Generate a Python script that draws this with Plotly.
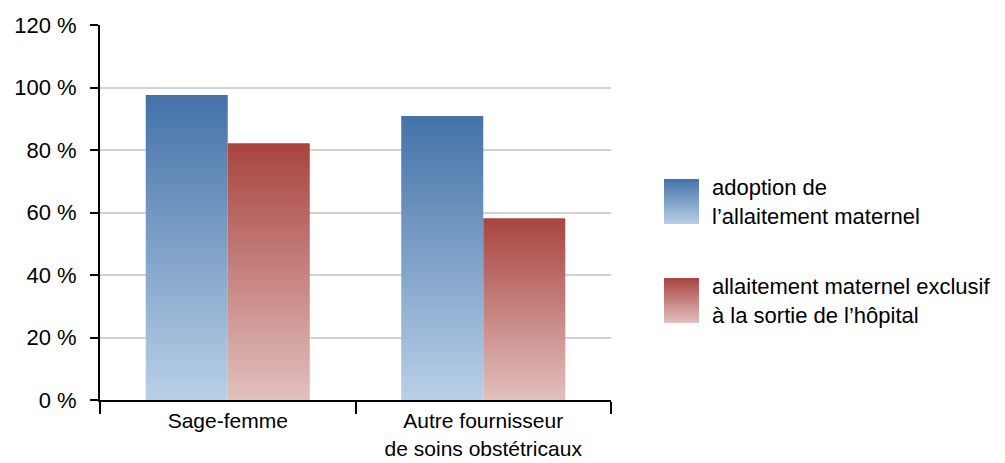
import plotly.graph_objects as go

categories = ["Sage-femme", "Autre fournisseur<br>de soins obstétricaux"]
series_names = ["adoption de<br>l’allaitement maternel",
                "allaitement maternel exclusif<br>à la sortie de l’hôpital"]
adoption = [97.6, 90.9]
exclusif = [82.2, 58.2]
y_ticks = [0, 20, 40, 60, 80, 100, 120]
y_ticktext = [f"{v} %" for v in y_ticks]

blue_scale = [[0, "#b9d0e7"], [1, "#4472a8"]]
red_scale = [[0, "#e1c0be"], [1, "#a9443f"]]
FONT = dict(family="Liberation Sans, Arial, sans-serif", size=22, color="#000000")
XFONT = dict(FONT, size=21)

# page body has an 8px margin: work in page pixels, shifted
OFF = 8
W, H = 1005 - OFF, 463 - OFF
ML, MR, MT = 100 - OFF, 5, 25 - OFF
PLOT_BOTTOM = 400 - OFF
MB = H - PLOT_BOTTOM
PW = W - ML - MR
PH = H - MT - MB


def px_x(p):
    return (p - OFF - ML) / PW


def px_y(p):
    return (PLOT_BOTTOM - (p - OFF)) / PH


main_right = px_x(611)

fig = go.Figure()

bar_w = 0.321
series = [(adoption, blue_scale, -1), (exclusif, red_scale, 0)]
for vals, scale, side in series:
    for i, v in enumerate(vals):
        x0 = i + side * bar_w
        x1 = x0 + bar_w
        fig.add_trace(go.Scatter(
            x=[x0, x0, x1, x1, x0], y=[0, v, v, 0, 0],
            mode="lines", line=dict(width=0), fill="toself",
            fillgradient=dict(type="vertical", colorscale=scale),
            showlegend=False, hoverinfo="skip",
            xaxis="x", yaxis="y"))

# custom legend swatches
swatches = [(179, 224, blue_scale, "y2"), (278, 323, red_scale, "y3")]
for (top, bot, scale, ya), name in zip(swatches, series_names):
    fig.add_trace(go.Scatter(
        x=[0, 0, 1, 1, 0], y=[0, 1, 1, 0, 0], mode="lines",
        line=dict(width=0), fill="toself",
        fillgradient=dict(type="vertical", colorscale=scale),
        showlegend=False, hoverinfo="skip", xaxis="x2", yaxis=ya))
    fig.add_annotation(
        text=name, xref="paper", yref="paper",
        x=px_x(710), y=px_y((top + bot) / 2), xanchor="left", yanchor="middle",
        align="left", showarrow=False, font=FONT)

hidden = dict(visible=False, range=[0, 1], fixedrange=True)
fig.update_layout(
    width=W, height=H,
    margin=dict(l=ML, r=MR, t=MT, b=MB, autoexpand=False),
    paper_bgcolor="white", plot_bgcolor="white",
    font=FONT,
    showlegend=False,
    xaxis=dict(
        domain=[0, main_right], range=[-0.5, 1.5],
        tickvals=list(range(len(categories))), ticktext=categories,
        ticks="", showgrid=False, zeroline=False,
        showline=True, linecolor="black", linewidth=2,
        ticklabelstandoff=1, automargin=False,
        minor=dict(tickvals=[-0.5, 0.5, 1.5], ticks="outside", ticklen=12,
                   tickwidth=2, tickcolor="black", showgrid=False),
        tickfont=XFONT, fixedrange=True),
    yaxis=dict(
        range=[0, 120], tickvals=y_ticks, ticktext=y_ticktext,
        ticks="outside", ticklen=8, tickwidth=2, tickcolor="black",
        showline=True, linecolor="black", linewidth=2,
        showgrid=True, gridcolor="#d2d2d2", gridwidth=2, automargin=False,
        zeroline=False, ticklabelstandoff=9, tickfont=FONT, fixedrange=True),
    xaxis2=dict(domain=[px_x(664), px_x(699)], anchor="y2", **hidden),
    yaxis2=dict(domain=[px_y(224), px_y(179)], anchor="x2", **hidden),
    yaxis3=dict(domain=[px_y(323), px_y(278)], anchor="x2", **hidden),
)

fig.write_html("out.html")
